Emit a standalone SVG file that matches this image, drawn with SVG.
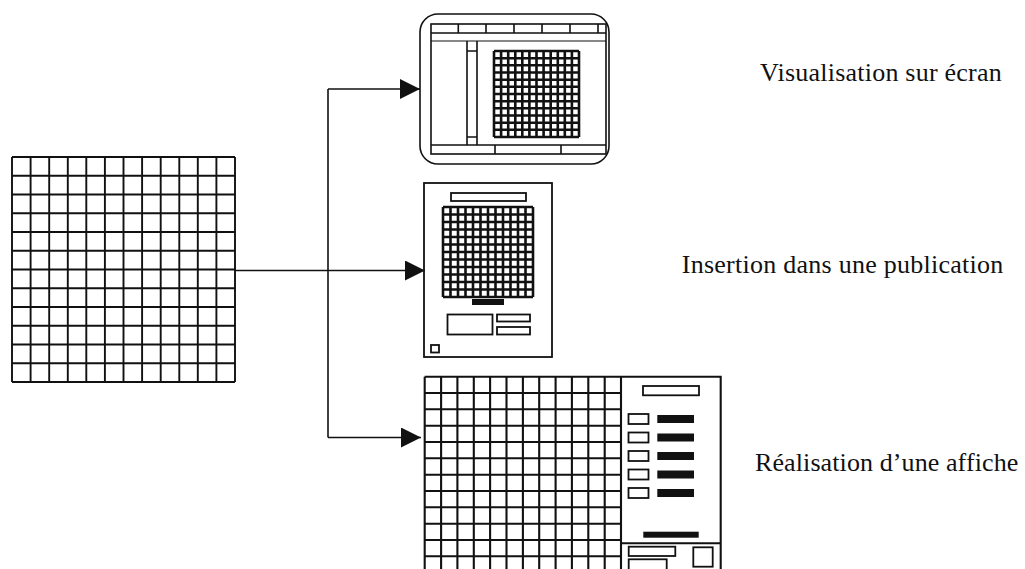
<svg xmlns="http://www.w3.org/2000/svg" width="1025" height="569" viewBox="0 0 1025 569">
<style>
.ln{fill:none;stroke:#111;stroke-width:1.6}
.g{fill:none;stroke:#111;stroke-width:1.9}
.gd{fill:none;stroke:#111;stroke-width:2.6}
.gp{fill:none;stroke:#111;stroke-width:2.1}
.bx{fill:#fff;stroke:#111;stroke-width:1.8}
.blk{fill:#111;stroke:none}
.t{font-family:"Liberation Serif","Times New Roman",serif;font-size:26px;fill:#111}
.c{fill:none;stroke:#111;stroke-width:1.6}
</style>
<defs>
<marker id="ah" viewBox="0 0 20 20" refX="20" refY="10" markerWidth="20" markerHeight="20" markerUnits="userSpaceOnUse" orient="auto">
<path d="M0 0L20 10L0 20z" fill="#111"/>
</marker>
</defs>
<rect width="1025" height="569" fill="#fff"/>

<g id="source-grid">
<path class="g" d="M12 157V382M30.6 157V382M49.2 157V382M67.8 157V382M86.3 157V382M104.9 157V382M123.5 157V382M142.1 157V382M160.7 157V382M179.3 157V382M197.8 157V382M216.4 157V382M235 157V382M12 157H235M12 175.8H235M12 194.5H235M12 213.3H235M12 232H235M12 250.8H235M12 269.5H235M12 288.3H235M12 307H235M12 325.8H235M12 344.5H235M12 363.3H235M12 382H235"/>
</g>

<g id="screen">
<rect x="420" y="14" width="189" height="150" rx="18" ry="18" fill="#fff" stroke="#111" stroke-width="1.6"/>
<rect x="431" y="24" width="175" height="130" class="ln"/>
<path class="ln" d="M431 33H606M458.3 24V33M486 24V33M514 24V33M542 24V33M570 24V33M598 24V33"/>
<path fill="none" stroke="#111" stroke-width="1" d="M431 41H606"/>
<path class="ln" d="M467 41V145M477 41V145M467 51H477M467 137H477M431 145H606M495 145V154M561 145V154"/>
<path class="gd" d="M494 51V137M501.1 51V137M508.2 51V137M515.3 51V137M522.3 51V137M529.4 51V137M536.5 51V137M543.6 51V137M550.7 51V137M557.8 51V137M564.8 51V137M571.9 51V137M579 51V137M494 51H579M494 58.2H579M494 65.3H579M494 72.5H579M494 79.7H579M494 86.8H579M494 94H579M494 101.2H579M494 108.3H579M494 115.5H579M494 122.7H579M494 129.8H579M494 137H579"/>
</g>

<g id="publication">
<rect x="424" y="183" width="128" height="174" fill="#fff" stroke="#111" stroke-width="1.8"/>
<rect x="451" y="193" width="75" height="8" class="bx"/>
<path class="gd" d="M443 207V297M450.5 207V297M458 207V297M465.5 207V297M473 207V297M480.5 207V297M488 207V297M495.5 207V297M503 207V297M510.5 207V297M518 207V297M525.5 207V297M533 207V297M443 207H533M443 214.5H533M443 222H533M443 229.5H533M443 237H533M443 244.5H533M443 252H533M443 259.5H533M443 267H533M443 274.5H533M443 282H533M443 289.5H533M443 297H533"/>
<rect x="472" y="299" width="32" height="6" class="blk"/>
<rect x="447.5" y="314.5" width="45" height="20" class="bx"/>
<rect x="497" y="314.5" width="33" height="7" class="bx"/>
<rect x="497" y="327" width="33" height="7.5" class="bx"/>
<rect x="431" y="345" width="8" height="7.5" class="bx"/>
</g>

<g id="poster">
<path class="gp" d="M424.7 376.7V569M441.1 376.7V569M457.4 376.7V569M473.8 376.7V569M490.1 376.7V569M506.5 376.7V569M522.9 376.7V569M539.2 376.7V569M555.6 376.7V569M571.9 376.7V569M588.3 376.7V569M604.7 376.7V569M621 376.7V569M424.7 393H621M424.7 409.3H621M424.7 425.7H621M424.7 442H621M424.7 458.3H621M424.7 474.7H621M424.7 491H621M424.7 507.3H621M424.7 523.7H621M424.7 540H621M424.7 556.3H621"/>
<path class="gp" d="M424.7 376.7H720.7V569M621 543.3H720.7"/>
<rect x="643" y="386" width="56" height="9.3" class="bx"/>
<rect x="628.5" y="414" width="20" height="10" class="bx"/>
<rect x="628.5" y="432.5" width="20" height="10" class="bx"/>
<rect x="628.5" y="451" width="20" height="10" class="bx"/>
<rect x="628.5" y="469.5" width="20" height="10" class="bx"/>
<rect x="628.5" y="488" width="20" height="10" class="bx"/>
<rect x="657.3" y="415" width="36.7" height="8" class="blk"/>
<rect x="657.3" y="433.5" width="36.7" height="8" class="blk"/>
<rect x="657.3" y="452" width="36.7" height="8" class="blk"/>
<rect x="657.3" y="470.5" width="36.7" height="8" class="blk"/>
<rect x="657.3" y="489" width="36.7" height="8" class="blk"/>
<rect x="643.3" y="531.7" width="55.4" height="6" class="blk"/>
<rect x="628.7" y="546.7" width="46.6" height="9.3" class="bx"/>
<rect x="628.7" y="559.3" width="38" height="12" class="bx"/>
<rect x="693.3" y="547.3" width="19.4" height="19.4" class="bx"/>
</g>

<g id="labels">
<text class="t" x="760" y="80.7" textLength="241.7" lengthAdjust="spacing">Visualisation sur écran</text>
<text class="t" x="681.7" y="272.7" textLength="321.6" lengthAdjust="spacing">Insertion dans une publication</text>
<text class="t" x="755" y="470.7" textLength="263.3" lengthAdjust="spacing">Réalisation d’une affiche</text>
</g>

<g id="connectors">
<path class="c" d="M235 270.5H425" marker-end="url(#ah)"/>
<path class="c" d="M328 89V437.5"/>
<path class="c" d="M328 89H420" marker-end="url(#ah)"/>
<path class="c" d="M328 437.5H421" marker-end="url(#ah)"/>
</g>
</svg>
